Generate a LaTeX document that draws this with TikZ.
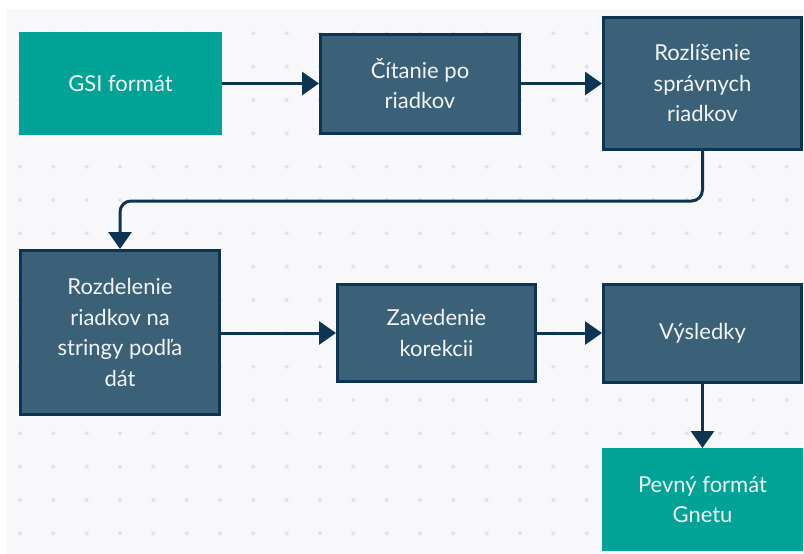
\documentclass[tikz,border=0pt]{standalone}
\usepackage{fontspec}
\setmainfont{Lato}
\usetikzlibrary{arrows.meta}
\definecolor{bgc}{HTML}{F8F8FA}
\definecolor{dotc}{HTML}{E2E2E6}
\definecolor{teal}{HTML}{00A396}
\definecolor{slate}{HTML}{3B6178}
\definecolor{navy}{HTML}{0B3553}
\definecolor{txt}{HTML}{F2F4F5}
\tikzset{
  box/.style={rectangle, draw=navy, line width=3pt, fill=slate, text=txt,
    align=center, inner sep=0pt, font=\fontsize{22}{30.5}\selectfont},
  tealbox/.style={rectangle, draw=teal, line width=1pt, fill=teal, text=txt,
    align=center, inner sep=0pt, font=\fontsize{22}{30.5}\selectfont},
  conn/.style={draw=navy, line width=3pt, -{Triangle[length=17pt,width=23pt]}},
}
\begin{document}
\begin{tikzpicture}[x=1pt,y=-1pt]
\useasboundingbox (0,0) rectangle (804,554);
\fill[white] (0,0) rectangle (804,554);
\fill[bgc] (7,9) rectangle (804,554);
\foreach \i in {0,...,23}{
  \foreach \j in {1,...,16}{
    \fill[dotc] ({20+33.333*\i},{33.333*\j}) circle (2);
  }
}
\node[tealbox, minimum width=202, minimum height=102] (gsi) at (120.5,83.5) {GSI formát};
\node[box, minimum width=199, minimum height=99] (cit) at (420,83.5) {Čítanie po\\riadkov};
\node[box, minimum width=198, minimum height=132] (roz) at (702.5,83) {Rozlíšenie\\správnych\\riadkov};
\node[box, minimum width=199, minimum height=164] (rozd) at (120,332.5) {Rozdelenie\\riadkov na\\stringy podľa\\dát};
\node[box, minimum width=198, minimum height=97] (zav) at (436.5,333) {Zavedenie\\korekcii};
\node[box, minimum width=198, minimum height=98] (vys) at (702.5,333) {Výsledky};
\node[tealbox, minimum width=200, minimum height=102] (pev) at (702.5,499.5) {Pevný formát\\Gnetu};
\draw[conn] (gsi.east) -- (cit.west);
\draw[conn] (cit.east) -- (roz.west |- cit.east);
\draw[conn, rounded corners=11pt] (roz.south) -- (roz.south |- 0,201) -- (rozd.north |- 0,201) -- (rozd.north);
\draw[conn] (rozd.east |- zav.west) -- (zav.west);
\draw[conn] (zav.east) -- (vys.west);
\draw[conn] (vys.south) -- (pev.north);
\end{tikzpicture}
\end{document}
